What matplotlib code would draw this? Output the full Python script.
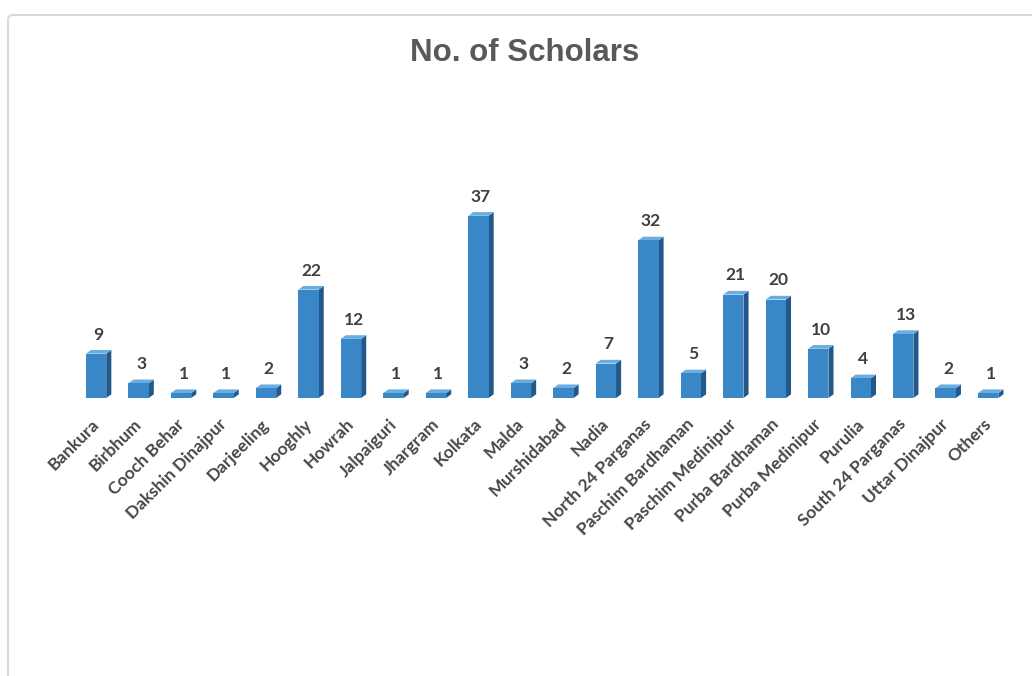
import matplotlib.pyplot as plt
from matplotlib.patches import Polygon, FancyBboxPatch
from matplotlib.transforms import ScaledTranslation

districts = ['Bankura', 'Birbhum', 'Cooch Behar', 'Dakshin Dinajpur', 'Darjeeling',
             'Hooghly', 'Howrah', 'Jalpaiguri', 'Jhargram', 'Kolkata', 'Malda',
             'Murshidabad', 'Nadia', 'North 24 Parganas', 'Paschim Bardhaman',
             'Paschim Medinipur', 'Purba Bardhaman', 'Purba Medinipur', 'Purulia',
             'South 24 Parganas', 'Uttar Dinajpur', 'Others']
scholars = [9, 3, 1, 1, 2, 22, 12, 1, 1, 37, 3, 2, 7, 32, 5, 21, 20, 10, 4, 13, 2, 1]

front = '#3a87c8'
side = '#22598a'
top = '#6aaee0'

plt.rcParams['font.family'] = ['Lato', 'DejaVu Sans']

fig = plt.figure(figsize=(10.32, 6.76), dpi=100)
fig.patch.set_facecolor('white')

# light frame round the chart area, kept behind the axes
frame = FancyBboxPatch((8 / 1032, -0.05), 1.1, 1 - 15 / 676 + 0.05,
                       boxstyle='round,pad=0,rounding_size=0.006',
                       transform=fig.transFigure, facecolor='white',
                       edgecolor='#d9d9d9', linewidth=1.5, zorder=-5)
fig.add_artist(frame)

ax = fig.add_axes([74.8 / 1032, 1 - 398 / 676, 934.6 / 1032, 197 / 676])
ax.set_xlim(-0.5, len(districts) - 0.5)
ax.set_ylim(0, 40)
ax.patch.set_alpha(0)

w = 0.48
dx = 0.12   # depth offset along x (data units)
dy = 0.75   # depth offset along y (data units)
for i, v in enumerate(scholars):
    x0 = i - w / 2
    x1 = i + w / 2
    ax.add_patch(Polygon([(x1, 0), (x1 + dx, dy), (x1 + dx, v + dy), (x1, v)],
                         closed=True, facecolor=side, edgecolor='none', zorder=2))
    ax.add_patch(Polygon([(x0, v), (x1, v), (x1 + dx, v + dy), (x0 + dx, v + dy)],
                         closed=True, facecolor=top, edgecolor='none', zorder=2))
    ax.bar(i, v, width=w, color=front, edgecolor='none', zorder=3)
    ax.text(i + dx / 2, v + dy + 1.5, str(v), ha='center', va='bottom',
            fontsize=12.5, fontweight='bold', color='#404040')

ax.set_xticks(range(len(districts)))
ax.set_xticklabels(districts, rotation=45, ha='right', rotation_mode='anchor',
                   fontsize=12.5, fontweight='bold', color='#474747')
ax.tick_params(axis='x', length=0, pad=13)
shift = ScaledTranslation(-5 / 100, 0, fig.dpi_scale_trans)
for lab in ax.get_xticklabels():
    lab.set_transform(lab.get_transform() + shift)
ax.set_yticks([])
for s in ax.spines.values():
    s.set_visible(False)

fig.text(525 / 1032, 1 - 53 / 676, 'No. of Scholars', ha='center', va='center',
         fontsize=22.5, fontweight='bold', color='#595959',
         family=['Liberation Sans Narrow', 'Liberation Sans', 'DejaVu Sans'])

fig.savefig('out.png', dpi=100)
